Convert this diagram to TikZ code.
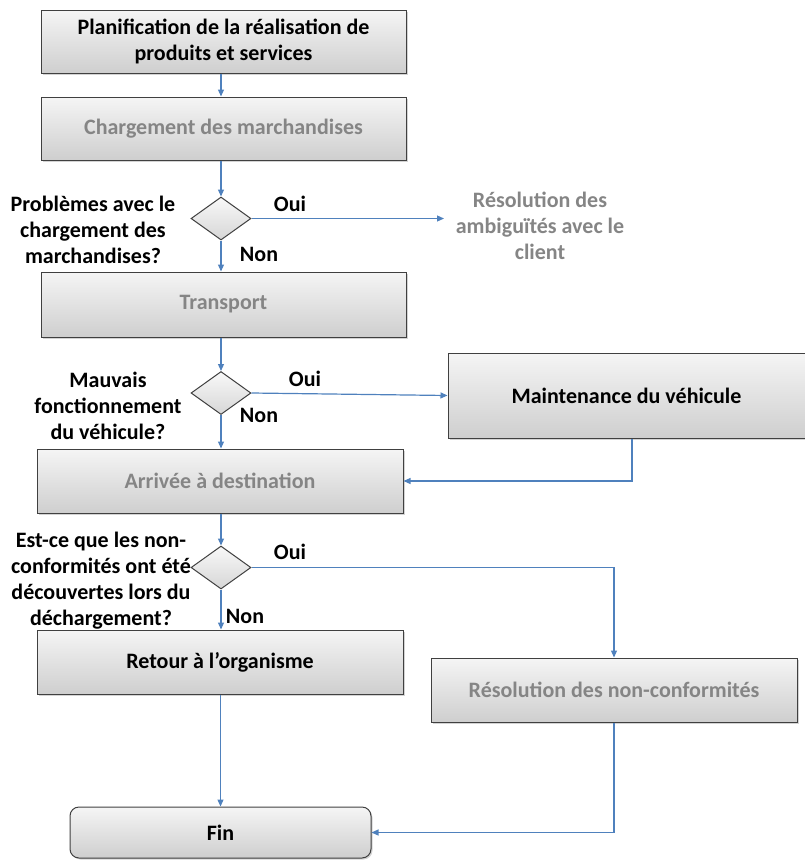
\documentclass[tikz,border=0pt]{standalone}
\usepackage{fontspec}
\setmainfont{Carlito}
\usetikzlibrary{shapes.geometric,arrows.meta,shadows}
\definecolor{lineblue}{HTML}{4F81BD}
\definecolor{boxedge}{HTML}{404040}
\tikzset{
  stepbox/.style={rectangle, draw=boxedge, line width=1pt, top color=gray!8, bottom color=gray!38,
    drop shadow={shadow xshift=1.5pt, shadow yshift=-1.5pt, opacity=0.35},
    font=\bfseries\fontsize{22}{26}\selectfont, align=center, inner sep=0pt},
  decision/.style={diamond, draw=boxedge, line width=1pt, top color=gray!5, bottom color=gray!32,
    minimum width=60pt, minimum height=43pt, inner sep=0pt},
  lbl/.style={font=\bfseries\fontsize{22}{26}\selectfont, align=center, inner sep=0pt},
  blurtxt/.style={text=black!48},
  conn/.style={draw=lineblue, line width=1.2pt},
  arr/.style={conn, -{Triangle[length=7pt,width=6pt]}},
}
\begin{document}
\begin{tikzpicture}[x=1pt,y=-1pt]
\useasboundingbox (0,0) rectangle (805,860);
% boxes
\node[stepbox, minimum width=365pt, minimum height=63pt] (plan) at (223.5,41.5) {Planification de la réalisation de\\produits et services};
\node[stepbox, blurtxt, minimum width=365pt, minimum height=63pt] (charg) at (223.5,128.5) {Chargement des marchandises};
\node[decision] (d1) at (221,218.5) {};
\node[lbl] (q1) at (93,230) {Problèmes avec le\\chargement des\\marchandises?};
\node[lbl, blurtxt] (resamb) at (540,226) {Résolution des\\ambiguïtés avec le\\client};
\node[stepbox, blurtxt, minimum width=365pt, minimum height=65pt] (transp) at (223.5,304.5) {Transport};
\node[decision] (d2) at (221,393) {};
\node[lbl] (q2) at (108,405.5) {Mauvais\\fonctionnement\\du véhicule?};
\node[stepbox, minimum width=357pt, minimum height=85pt] (maint) at (626.5,395.5) {Maintenance du véhicule};
\node[stepbox, blurtxt, minimum width=366pt, minimum height=64pt] (arriv) at (220,481) {Arrivée à destination};
\node[decision] (d3) at (221,567.5) {};
\node[lbl] (q3) at (101,580.5) {Est-ce que les non-\\conformités ont été\\découvertes lors du\\déchargement?};
\node[stepbox, minimum width=366pt, minimum height=64pt] (retour) at (220,662) {Retour à l’organisme};
\node[stepbox, blurtxt, minimum width=366pt, minimum height=64pt] (resnc) at (614,690) {Résolution des non-conformités};
\node[stepbox, rounded corners=9pt, minimum width=301pt, minimum height=51pt] (fin) at (220.5,832.5) {Fin};
% Oui / Non labels
\node[lbl] (o1) at (290,204) {Oui};
\node[lbl] (n1) at (259,254) {Non};
\node[lbl] (o2) at (305,379) {Oui};
\node[lbl] (n2) at (259,415) {Non};
\node[lbl] (o3) at (290,552) {Oui};
\node[lbl] (n3) at (245,616) {Non};
% connectors
\coordinate (ambin) at (444,218.5);
\draw[arr] (plan.south -| 221,0) -- (charg.north -| 221,0);
\draw[arr] (charg.south -| d1.north) -- (d1.north);
\draw[arr] (d1.east) -- (ambin);
\draw[arr] (d1.south) -- (d1.south |- transp.north);
\draw[arr] (d1.south |- transp.south) -- (d2.north);
\draw[arr] (d2.east) -- (maint.west);
\draw[arr] (d2.south) -- (d2.south |- arriv.north);
\draw[arr] (maint.south -| 632,0) |- (arriv.east);
\draw[arr] (d3.north |- arriv.south) -- (d3.north);
\draw[arr] (d3.east) -| (resnc.north);
\draw[arr] (d3.south) -- (d3.south |- retour.north);
\draw[arr] (retour.south -| fin.north) -- (fin.north);
\draw[arr] (resnc.south) |- (fin.east);
\end{tikzpicture}
\end{document}
